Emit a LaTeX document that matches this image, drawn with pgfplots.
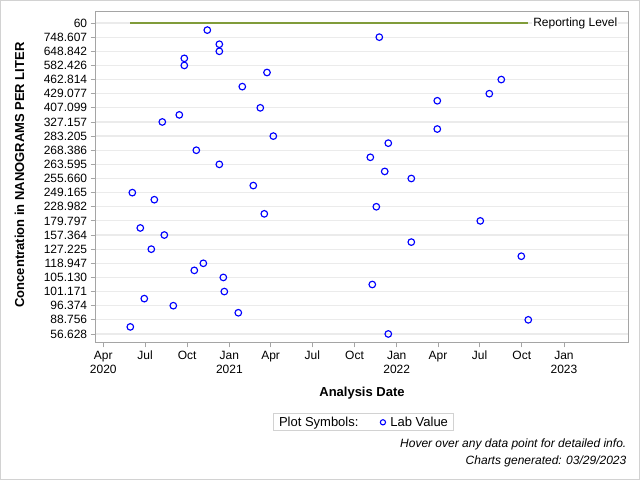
\documentclass[border=0pt]{standalone}
\usepackage{pgfplots}
\pgfplotsset{compat=1.18}
\usepackage{pgfplotstable}
\usepackage{fontspec}
\setmainfont{Liberation Sans}
\definecolor{reflev}{RGB}{128,156,58}
\definecolor{framegray}{RGB}{165,165,165}
\definecolor{gridgray}{RGB}{235,235,235}
\definecolor{bordergray}{RGB}{210,210,210}

% x = days since 2020-04-01, y = minus category position (0 = top category)
\pgfplotstableread{
x y
226.9 -0.5
602.1 -1
253.1 -1.5
253.1 -2
176.7 -2.5
176.7 -3
357.1 -3.5
868.2 -4
303.2 -4.5
842.1 -5
728.6 -5.5
342.5 -6
165.8 -6.5
128.7 -7
728.6 -7.5
370.9 -8
621.7 -8.5
202.9 -9
582.5 -9.5
253.1 -10
613.9 -10.5
671.9 -11
327.2 -11.5
63.3 -12
111.3 -12.5
595.6 -13
351.2 -13.5
822.4 -14
80.7 -14.5
133.1 -15
671.9 -15.5
104.7 -16
911.9 -16.5
218.2 -17
198.5 -17.5
261.8 -18
586.8 -18.5
264.0 -19
89.4 -19.5
152.7 -20
294.5 -20.5
927.1 -21
58.9 -21.5
621.7 -22
}\labdata

\begin{document}
\begin{tikzpicture}
\path[use as bounding box] (0pt,0pt) rectangle (640pt,480pt);
\draw[bordergray, line width=1pt] (0.5pt,0.5pt) rectangle (639.5pt,479.5pt);
\begin{axis}[
  at={(95.7pt,137.7pt)}, anchor=south west,
  scale only axis, width=532.6pt, height=331pt,
  xmin=-16.6, xmax=1145.3,
  ymin=-22.59, ymax=0.83,
  xtick={0,91,183,275,365,456,548,640,730,821,913,1005},
  xticklabels={{Apr\\2020},Jul,Oct,{Jan\\2021},Apr,Jul,Oct,{Jan\\2022},Apr,Jul,Oct,{Jan\\2023}},
  xticklabel style={align=center, font=\fontsize{12}{14}\selectfont},
  ytick={0,-1,...,-22},
  yticklabels={60,748.607,648.842,582.426,462.814,429.077,407.099,327.157,283.205,268.386,263.595,255.660,249.165,228.982,179.797,157.364,127.225,118.947,105.130,101.171,96.374,88.756,56.628},
  yticklabel style={font=\fontsize{12}{14}\selectfont},
  /pgf/number format/assume math mode=true,
  tick align=outside, tick pos=left,
  major tick length=5pt,
  tick style={framegray, line width=0.8pt},
  axis line style={framegray, line width=1pt},
  ymajorgrids, major grid style={gridgray, line width=1.2pt},
  legend columns=-1,
  legend style={at={(0.5028,-0.2417)}, anchor=center, draw=bordergray, line width=0.8pt,
    font=\fontsize{13}{15}\selectfont, inner xsep=1.5pt, inner ysep=2pt,
    nodes={inner ysep=1pt, inner xsep=4.3pt},
    /tikz/every even column/.append style={column sep=17pt},
    /tikz/every odd column/.append style={column sep=0pt}},
  clip=false,
]
\addlegendimage{empty legend}
\addlegendentry{Plot Symbols:}
\addplot[reflev, line width=2pt, forget plot] coordinates {(58.9,0) (927.1,0)}
  node[pos=1, anchor=west, fill=white, text=black, inner xsep=1pt, inner ysep=2pt, xshift=3pt, font=\fontsize{12}{14}\selectfont] {Reporting Level};
\addplot[only marks, mark=o, mark size=3.3pt, mark options={draw=blue, line width=1.15pt},
  legend image code/.code={\draw[draw=blue, line width=1.1pt] (0pt,0pt) circle (2.6pt);}]
  table {\labdata};
\addlegendentry{Lab Value\hspace{6pt}}
\end{axis}
\node[rotate=90, font=\bfseries\fontsize{13}{16}\selectfont] at (19.5pt,305pt) {Concentration in NANOGRAMS PER LITER};
\node[font=\bfseries\fontsize{13}{16}\selectfont] at (362pt,87pt) {Analysis Date};
\node[anchor=east, inner sep=0pt, font=\itshape\fontsize{12}{14}\selectfont] at (626.5pt,35.7pt) {Hover over any data point for detailed info.};
\node[anchor=east, inner sep=0pt, font=\itshape\fontsize{12}{14}\selectfont] at (626.5pt,18.3pt) {Charts generated: 03/29/2023};
\end{tikzpicture}
\end{document}
